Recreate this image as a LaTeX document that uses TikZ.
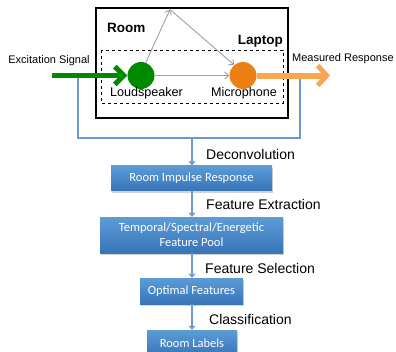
\documentclass[tikz,border=0pt]{standalone}
\usepackage{fontspec}
\setmainfont{Liberation Sans}
\newfontfamily\calfont{Carlito}
\usetikzlibrary{arrows.meta,shadows}
\definecolor{sgreen}{RGB}{0,138,0}
\definecolor{morange}{RGB}{236,128,20}
\definecolor{lorange}{RGB}{250,166,80}
\definecolor{fblue}{RGB}{108,154,208}
\definecolor{btop}{RGB}{92,156,214}
\definecolor{bbot}{RGB}{56,116,184}
\tikzset{
  flowbox/.style={rectangle, top color=btop, bottom color=bbot, draw=none,
    text=white, font=\calfont\fontsize{12.5}{15}\selectfont, align=center,
    inner sep=0pt, drop shadow={opacity=0.35, shadow xshift=1pt, shadow yshift=-2pt}},
  lbl/.style={font=\fontsize{14}{16}\selectfont, inner sep=0pt},
  sml/.style={font=\fontsize{11}{13}\selectfont, inner sep=0pt},
  dev/.style={font=\fontsize{12.6}{15}\selectfont, inner sep=0pt},
  ttl/.style={font=\bfseries\fontsize{13.5}{16}\selectfont, inner sep=0pt},
  grayarr/.style={draw=gray!75, line width=0.9pt, -{Straight Barb[length=4pt,width=7pt]}},
  flowarr/.style={draw=fblue, line width=2pt, -{Triangle[length=4pt,width=7pt]}},
  fbline/.style={draw=fblue, line width=1.2pt},
}
\begin{document}
\begin{tikzpicture}[x=1pt,y=-1pt]
\useasboundingbox (0,0) rectangle (396,351);
% room and laptop
\draw[line width=2.5pt] (96,8) rectangle (288,118);
\draw[dashed, line width=0.9pt] (101,50) rectangle (283,103);
\node[ttl, anchor=west] (room) at (107,28) {Room};
\node[ttl, anchor=east] (laptop) at (283,41) {Laptop};
% feedback lines
\coordinate (fl0) at (78,75);
\coordinate (fl1) at (78,138);
\coordinate (fr0) at (300,75);
\coordinate (fr1) at (300,138);
\coordinate (fm) at (192,138);
\draw[fbline] (fl0) -- (fl1) -- (fr1) -- (fr0);
% speakers
\node[circle, fill=sgreen, minimum size=27pt, inner sep=0pt] (ls) at (141,75.5) {};
\node[circle, fill=morange, minimum size=27pt, inner sep=0pt] (mic) at (243,75.5) {};
\node[dev] (lslbl) at (146.5,93) {Loudspeaker};
\node[dev] (miclbl) at (244,93) {Microphone};
\coordinate (apex) at (170,9.5);
\draw[grayarr] (ls.70) -- (apex);
\draw[grayarr] (apex) -- (mic.130);
\draw[grayarr] (ls.east) -- (mic.west);
% input / output
\coordinate (exs) at (52,75.5);
\coordinate (mre) at (330,75.5);
\draw[draw=sgreen, line width=5pt, -{Straight Barb[length=9pt,width=18pt,line width=5pt]}] (exs) -- (ls.west);
\draw[draw=lorange, line width=6pt, -{Straight Barb[length=9pt,width=20pt,line width=5pt]}] (mic.east) -- (mre);
\node[sml] (exlbl) at (49,61) {Excitation Signal};
\node[sml, anchor=west] (mrlbl) at (292,59) {Measured Response};
% flow
\node[flowbox, minimum width=161pt, minimum height=25pt] (rir) at (191.5,178) {Room Impulse Response};
\node[flowbox, minimum width=183pt, minimum height=36pt] (pool) at (191.5,235) {Temporal/Spectral/Energetic\\Feature Pool};
\node[flowbox, minimum width=103pt, minimum height=26pt] (opt) at (191.5,291) {Optimal Features};
\node[flowbox, minimum width=90pt, minimum height=26pt] (lab) at (192,343) {Room Labels};
\draw[flowarr] (fm) -- (rir.north -| fm);
\draw[flowarr] (rir.south -| fm) -- (pool.north -| fm);
\draw[flowarr] (pool.south -| fm) -- (opt.north -| fm);
\draw[flowarr] (opt.south -| fm) -- (lab.north -| fm);
\node[lbl, anchor=west] (l1) at (206,154) {Deconvolution};
\node[lbl, anchor=west] (l2) at (206,204) {Feature Extraction};
\node[lbl, anchor=west] (l3) at (205,268) {Feature Selection};
\node[lbl, anchor=west] (l4) at (209,319) {Classification};
\end{tikzpicture}
\end{document}
